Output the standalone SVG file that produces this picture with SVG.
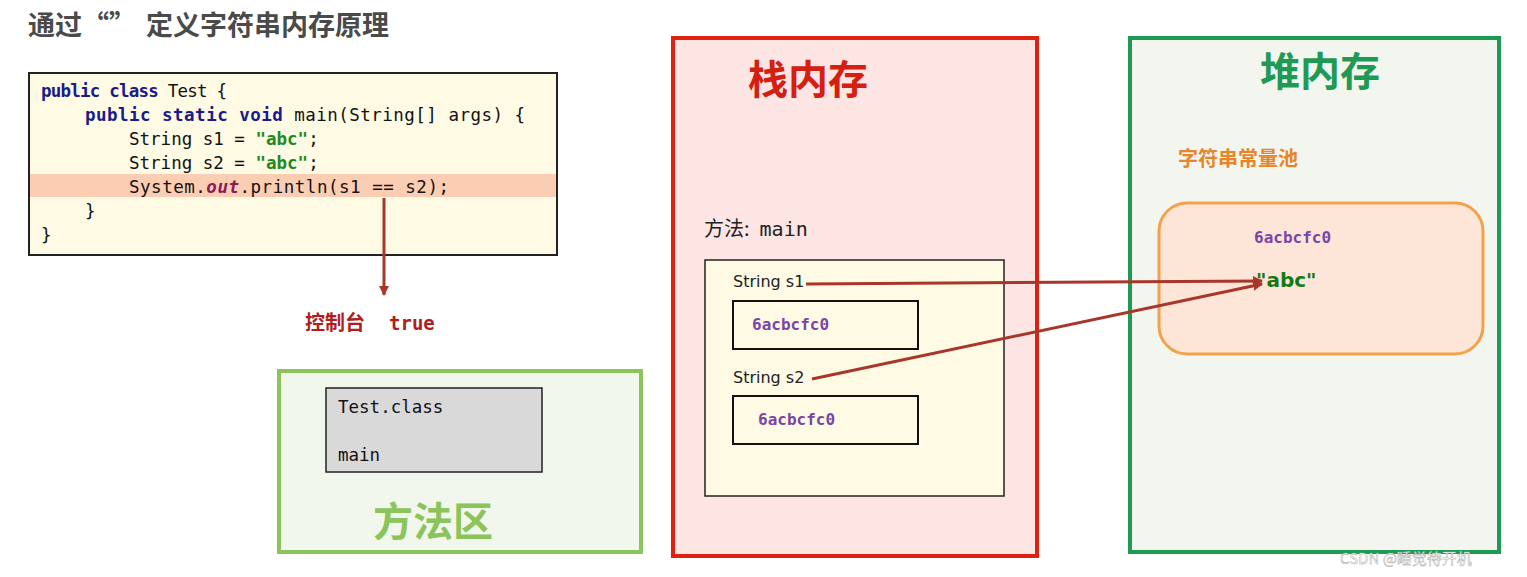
<svg xmlns="http://www.w3.org/2000/svg" width="1527" height="577" viewBox="0 0 1527 577">
<defs>
<marker id="ah" markerWidth="10" markerHeight="10" refX="9" refY="5" orient="auto" markerUnits="userSpaceOnUse" viewBox="0 0 10 10"><path d="M0,0 L10,5 L0,10 z" fill="#a8362a"/></marker>
<style>
.code{font-family:"DejaVu Sans Mono","Liberation Mono",monospace;font-size:17.5px;fill:#111}
.kw{fill:#1a1a8c;font-weight:bold}
.str{fill:#1d8a1d;font-weight:bold}
.hex{font-family:"DejaVu Sans Mono",monospace;font-size:16px;font-weight:bold;fill:#7a45a8}
.lbl{font-family:"DejaVu Sans","Noto Sans CJK SC",sans-serif;font-size:16px;fill:#222}
.big{font-family:"Noto Sans CJK SC",sans-serif;font-weight:bold;font-size:40px}
.conn{stroke:#a8362a;stroke-width:3;fill:none}
</style>
</defs>
<rect width="1527" height="577" fill="#fff"/>
<text x="28" y="35" font-family="Noto Sans CJK SC,sans-serif" font-weight="bold" font-size="27" fill="#4a4a4a">通过<tspan dx="0">“”</tspan><tspan dx="10">定义字符串内存原理</tspan></text>
<g id="code">
<rect x="29" y="73" width="528" height="182" fill="#fefae3" stroke="#222" stroke-width="2"/>
<rect x="30" y="174" width="526" height="23" fill="#fbcdb3"/>
<text class="code" x="41" y="97" textLength="186"><tspan class="kw">public class</tspan> Test {</text>
<text class="code" x="85" y="121" textLength="440"><tspan class="kw">public static void</tspan> main(String[] args) {</text>
<text class="code" x="129" y="145">String s1 = <tspan class="str">"abc"</tspan>;</text>
<text class="code" x="129" y="169">String s2 = <tspan class="str">"abc"</tspan>;</text>
<text class="code" x="129" y="193" textLength="320">System.<tspan font-style="italic" font-weight="bold" fill="#8b1a5a">out</tspan>.println(s1 == s2);</text>
<text class="code" x="85" y="217">}</text>
<text class="code" x="41" y="241">}</text>
</g>
<g id="console"><text x="305" y="330" font-family="Noto Sans CJK SC,sans-serif" font-weight="bold" font-size="20" fill="#b01e1e">控制台<tspan font-family="DejaVu Sans Mono,monospace" font-size="19" dx="24">true</tspan></text></g>
<g id="method-area">
<rect x="279" y="371" width="362" height="181" fill="#f2f7ee" stroke="#8bc45a" stroke-width="4"/>
<rect x="326" y="388" width="216" height="84" fill="#d9d9d9" stroke="#222" stroke-width="1.5"/>
<text class="code" x="338" y="413" font-size="16">Test.class</text>
<text class="code" x="338" y="461" font-size="16">main</text>
<text class="big" x="373" y="536" fill="#8bc45a">方法区</text>
</g>
<g id="stack">
<rect x="673" y="38" width="364" height="518" fill="#fde5e3" stroke="#e02010" stroke-width="4"/>
<text class="big" x="748" y="94" fill="#d42010">栈内存</text>
<text x="704" y="236" font-family="Noto Sans CJK SC,sans-serif" font-size="20" fill="#222">方法:<tspan font-family="DejaVu Sans Mono,monospace" dx="10">main</tspan></text>
<rect x="705" y="260" width="299" height="236" fill="#fefae3" stroke="#222" stroke-width="1.5"/>
<text class="lbl" x="733" y="287">String s1</text>
<rect x="733" y="301" width="185" height="48" fill="#fefae3" stroke="#111" stroke-width="2"/>
<text class="hex" x="752" y="330">6acbcfc0</text>
<text class="lbl" x="733" y="383">String s2</text>
<rect x="733" y="396" width="185" height="48" fill="#fefae3" stroke="#111" stroke-width="2"/>
<text class="hex" x="758" y="425">6acbcfc0</text>
</g>
<g id="heap">
<rect x="1130" y="38" width="369" height="514" fill="#f2f6ee" stroke="#1f9a55" stroke-width="4"/>
<text class="big" x="1260" y="86" fill="#1f9a55">堆内存</text>
<text x="1178" y="166" font-family="Noto Sans CJK SC,sans-serif" font-weight="bold" font-size="20" fill="#e8842a">字符串常量池</text>
<rect x="1159" y="203" width="324" height="151" rx="28" fill="#fde5d8" stroke="#f4a24a" stroke-width="3"/>
<text class="hex" x="1254" y="243">6acbcfc0</text>
<text x="1256" y="287" font-family="DejaVu Sans,sans-serif" font-weight="bold" font-size="20" fill="#137a13">"abc"</text>
</g>
<g id="connectors">
<path class="conn" d="M384,198 V295" marker-end="url(#ah)"/>
<path class="conn" d="M806,284 L1262,281" marker-end="url(#ah)"/>
<path class="conn" d="M812,379 L1262,284" marker-end="url(#ah)"/>
</g>
<text x="1340" y="564" font-family="Noto Sans CJK SC,sans-serif" font-size="15" fill="#ffffff" stroke="#999" stroke-width="0.4">CSDN @睡觉待开机</text>
</svg>
